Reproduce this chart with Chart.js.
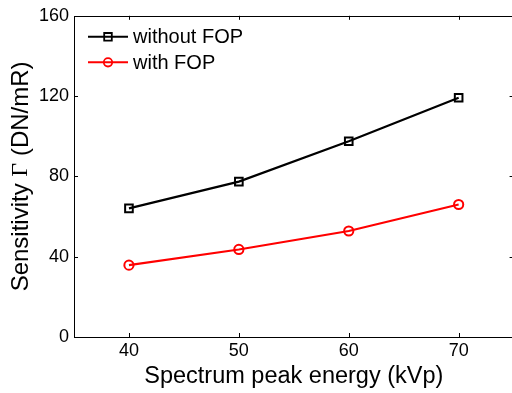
<!DOCTYPE html>
<html>
<head>
<meta charset="utf-8">
<script src="https://cdn.jsdelivr.net/npm/chart.js@4/dist/chart.umd.min.js"></script>
<style>
html, body { margin: 0; padding: 0; background: #fff; overflow: hidden; }
#wrap { position: relative; width: 521px; height: 393px; }
</style>
</head>
<body>
<div id="wrap"><canvas id="chart"></canvas></div>
<script>
// values
var energies = [40, 50, 60, 70];
var withoutFop = [64.1, 77.4, 97.5, 119.2];
var withFop = [35.8, 43.6, 52.8, 66.0];
var xTicks = [40, 50, 60, 70];
var yTicks = [0, 40, 80, 120, 160];

var FONT = '"Liberation Sans", Arial, sans-serif';

function points(ys) {
    return energies.map(function (x, i) { return { x: x, y: ys[i] }; });
}

// box around the plot with small inward ticks, like matlab axes
var boxPlugin = {
    id: 'box',
    afterDatasetsDraw: function (chart) {
        var ctx = chart.ctx, a = chart.chartArea;
        var xs = chart.scales.x, ys = chart.scales.y;
        ctx.save();
        ctx.strokeStyle = '#000';
        ctx.lineWidth = 1;
        ctx.strokeRect(Math.round(a.left) + 0.5, Math.round(a.top) + 0.5,
            Math.round(a.right - a.left), Math.round(a.bottom - a.top));
        ctx.beginPath();
        xTicks.forEach(function (v) {
            var px = Math.round(xs.getPixelForValue(v)) + 0.5;
            ctx.moveTo(px, a.bottom); ctx.lineTo(px, a.bottom - 4);
            ctx.moveTo(px, a.top); ctx.lineTo(px, a.top + 4);
        });
        yTicks.forEach(function (v) {
            var py = Math.round(ys.getPixelForValue(v)) + 0.5;
            ctx.moveTo(a.left, py); ctx.lineTo(a.left + 4, py);
            ctx.moveTo(a.right, py); ctx.lineTo(a.right - 4, py);
        });
        ctx.stroke();
        ctx.restore();
    }
};

// legend drawn with line + marker, top left inside the axes
var legendPlugin = {
    id: 'lineLegend',
    afterDraw: function (chart) {
        var ctx = chart.ctx, a = chart.chartArea;
        ctx.save();
        ctx.font = '20px ' + FONT;
        ctx.textBaseline = 'middle';
        chart.data.datasets.forEach(function (ds, i) {
            var y = a.top + 21 + i * 25.5;
            var x0 = a.left + 14, x1 = a.left + 54, xm = (x0 + x1) / 2;
            ctx.strokeStyle = ds.borderColor;
            ctx.lineWidth = 2;
            ctx.beginPath();
            ctx.moveTo(x0, y); ctx.lineTo(x1, y);
            ctx.stroke();
            ctx.lineWidth = 1.8;
            ctx.beginPath();
            if (ds.pointStyle === 'rect') {
                ctx.rect(xm - 3.8, y - 3.8, 7.6, 7.6);
            } else {
                ctx.arc(xm, y, 4.2, 0, Math.PI * 2);
            }
            ctx.stroke();
            ctx.fillStyle = '#000';
            ctx.fillText(ds.label, x1 + 5, y + 1);
        });
        ctx.restore();
    }
};

// y title with a serif Gamma
var yTitlePlugin = {
    id: 'yTitle',
    afterDraw: function (chart) {
        var ctx = chart.ctx, a = chart.chartArea;
        var parts = [
            { t: 'Sensitivity ', f: '24px ' + FONT },
            { t: '\u0393', f: '24px "Liberation Serif", "Times New Roman", serif' },
            { t: ' (DN/mR)', f: '24px ' + FONT }
        ];
        var total = 0;
        parts.forEach(function (p) { ctx.font = p.f; p.w = ctx.measureText(p.t).width; total += p.w; });
        ctx.save();
        ctx.translate(21, (a.top + a.bottom) / 2);
        ctx.rotate(-Math.PI / 2);
        ctx.fillStyle = '#000';
        ctx.textBaseline = 'middle';
        var x = -total / 2;
        parts.forEach(function (p) {
            ctx.font = p.f;
            ctx.fillText(p.t, x, 0);
            x += p.w;
        });
        ctx.restore();
    }
};

var ctx = document.getElementById('chart').getContext('2d');
new Chart(ctx, {
    type: 'line',
    data: {
        datasets: [{
            label: 'without FOP',
            data: points(withoutFop),
            borderColor: '#000000',
            backgroundColor: 'rgba(0,0,0,0)',
            borderWidth: 2.2,
            pointStyle: 'rect',
            pointRadius: 5.4,
            pointBorderWidth: 2,
            pointBackgroundColor: 'rgba(0,0,0,0)',
            pointBorderColor: '#000000',
            tension: 0
        }, {
            label: 'with FOP',
            data: points(withFop),
            borderColor: '#ff0000',
            backgroundColor: 'rgba(0,0,0,0)',
            borderWidth: 2.2,
            pointStyle: 'circle',
            pointRadius: 4.6,
            pointBorderWidth: 2,
            pointBackgroundColor: 'rgba(0,0,0,0)',
            pointBorderColor: '#ff0000',
            tension: 0
        }]
    },
    options: {
        responsive: true,
        maintainAspectRatio: false,
        animation: false,
        events: [],
        layout: { padding: { top: 14, right: 0, left: 0, bottom: 0 } },
        plugins: { legend: { display: false }, tooltip: { enabled: false } },
        scales: {
            x: {
                type: 'linear',
                min: 35,
                max: 75,
                afterBuildTicks: function (s) { s.ticks = xTicks.map(function (v) { return { value: v }; }); },
                afterFit: function (s) { s.height = 56; },
                grid: { display: false, drawTicks: false },
                border: { display: false },
                ticks: { color: '#000', padding: 3, font: { family: FONT, size: 18 } },
                title: {
                    display: true,
                    text: 'Spectrum peak energy (kVp)',
                    color: '#000',
                    font: { family: FONT, size: 23.5 },
                    padding: { top: 0, bottom: 2 }
                }
            },
            y: {
                min: 0,
                max: 160,
                afterBuildTicks: function (s) { s.ticks = yTicks.map(function (v) { return { value: v }; }); },
                afterFit: function (s) { s.width = 74; },
                grid: { display: false, drawTicks: false },
                border: { display: false },
                ticks: { color: '#000', padding: 5, font: { family: FONT, size: 18 } }
            }
        }
    },
    plugins: [boxPlugin, legendPlugin, yTitlePlugin]
});
</script>
</body>
</html>
